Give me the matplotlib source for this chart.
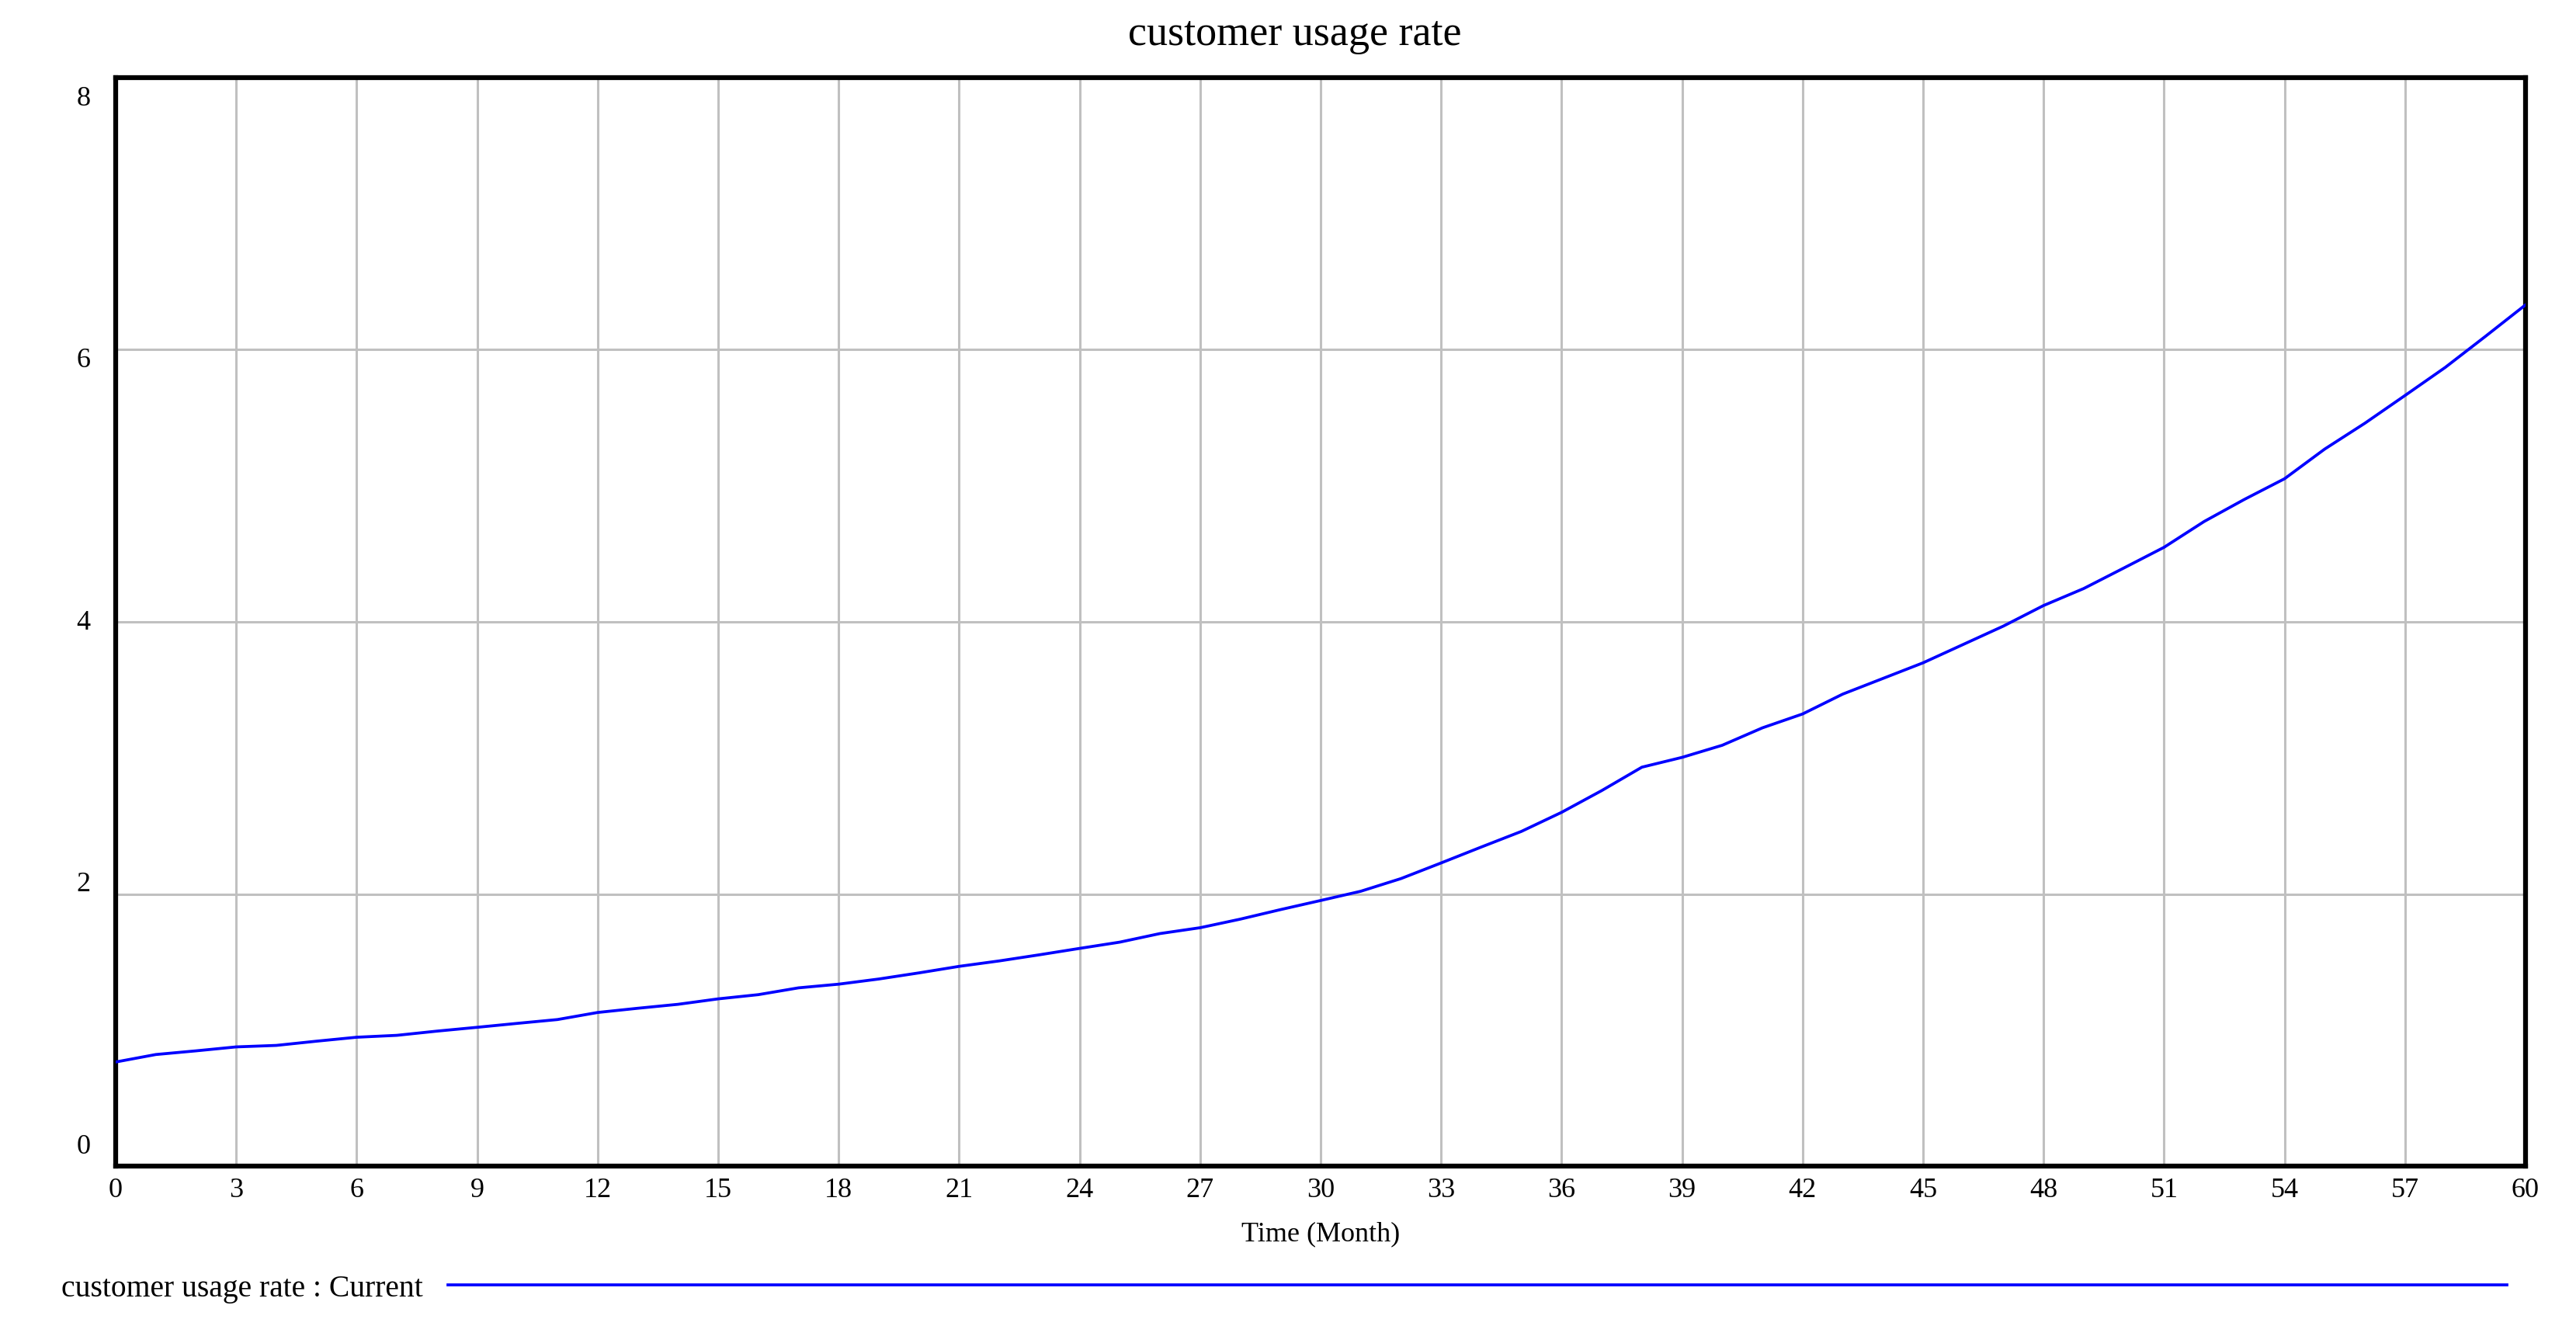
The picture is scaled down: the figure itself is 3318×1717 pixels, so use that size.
import matplotlib
matplotlib.use("Agg")
import matplotlib.pyplot as plt
from matplotlib.lines import Line2D

plt.rcParams['font.family'] = ['Liberation Serif', 'DejaVu Serif']

# monthly values
months = list(range(0, 61))
usage_rate = [0.765, 0.820, 0.847, 0.876, 0.887, 0.918, 0.947, 0.961, 0.992, 1.020,
              1.049, 1.077, 1.129, 1.160, 1.189, 1.229, 1.260, 1.310, 1.337, 1.375,
              1.420, 1.468, 1.508, 1.553, 1.600, 1.646, 1.709, 1.752, 1.815, 1.885,
              1.952, 2.020, 2.113, 2.228, 2.345, 2.460, 2.600, 2.760, 2.932, 3.004,
              3.093, 3.221, 3.323, 3.469, 3.584, 3.699, 3.834, 3.969, 4.120, 4.245,
              4.396, 4.548, 4.738, 4.900, 5.052, 5.270, 5.460, 5.664, 5.870, 6.098,
              6.330]
x_ticks = list(range(0, 61, 3))
y_ticks = [0, 2, 4, 6, 8]

title = "customer usage rate"
x_label = "Time (Month)"
series_label = "customer usage rate : Current"

W, H = 3318, 1717
fig = plt.figure(figsize=(W / 100, H / 100), dpi=100)
ax = fig.add_axes([149 / W, 1 - 1502 / H, (3253 - 149) / W, (1502 - 100) / H])

ax.plot(months, usage_rate, color='#0000FF', lw=2.7, zorder=3)

ax.set_xlim(0, 60)
ax.set_ylim(0, 8)
ax.set_xticks(x_ticks)
ax.set_yticks(y_ticks)
ax.set_yticklabels([])
ax.grid(True, color='#C0C0C0', lw=2.2, zorder=0)
ax.set_axisbelow(True)
ax.tick_params(axis='both', length=0)
ax.tick_params(axis='x', labelsize=26, pad=11)
for s in ax.spines.values():
    s.set_linewidth(4.5)
    s.set_color('black')

# y labels sit a little inside the range, like the original tool draws them
ytrans = ax.get_yaxis_transform()
for v in y_ticks:
    ax.text(-0.0105, 0.14 + v * 0.963, str(v), transform=ytrans,
            ha='right', va='center', fontsize=26)

fig.text(1668 / W, 1 - 45 / H, title, ha='center', va='center', fontsize=39)
fig.text(1701 / W, 1 - 1590 / H, x_label, ha='center', va='center', fontsize=26)

# legend row
fig.text(79 / W, 1 - 1660 / H, series_label, ha='left', va='center', fontsize=28.5)
fig.add_artist(Line2D([577 / W, 3229 / W], [1 - 1655 / H, 1 - 1655 / H],
                      color='#0000FF', lw=2.7, transform=fig.transFigure))

fig.savefig("out.png", dpi=100)
